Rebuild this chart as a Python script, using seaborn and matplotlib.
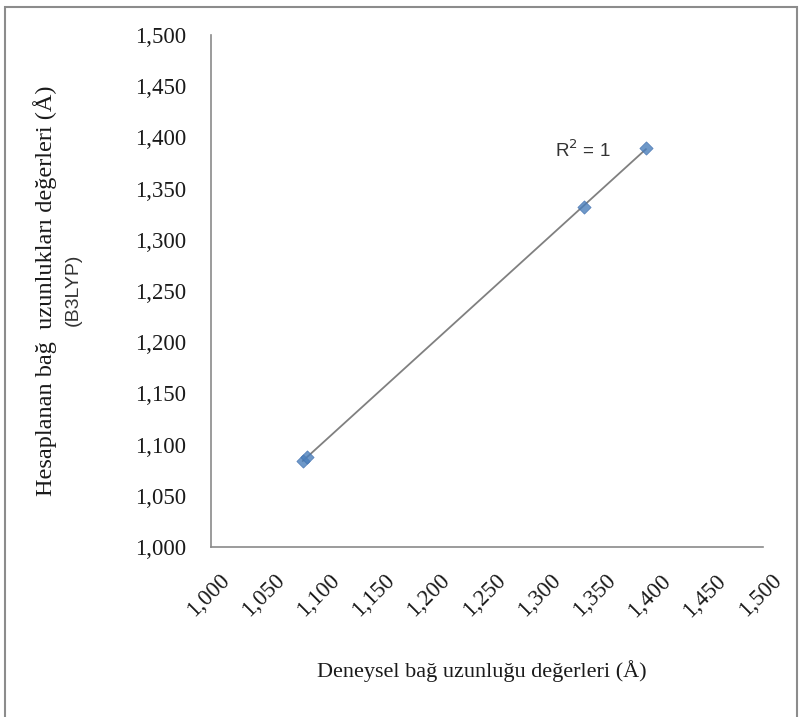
import numpy as np
import pandas as pd
import matplotlib
matplotlib.use("Agg")
import matplotlib.pyplot as plt
import matplotlib.transforms as mtransforms
import seaborn as sns
from matplotlib.patches import Rectangle

# ---- data ----
deneysel = [1.083, 1.087, 1.338, 1.394]      # experimental bond lengths (Å)
hesaplanan = [1.084, 1.088, 1.332, 1.390]    # B3LYP calculated bond lengths (Å)
tick_values = [1.000, 1.050, 1.100, 1.150, 1.200, 1.250, 1.300, 1.350, 1.400, 1.450, 1.500]
tick_labels = ["1,000", "1,050", "1,100", "1,150", "1,200", "1,250",
               "1,300", "1,350", "1,400", "1,450", "1,500"]
r2_text = "R$^2$ = 1"
xlabel = "Deneysel bağ uzunluğu değerleri (Å)"
ylabel1 = "Hesaplanan bağ  uzunlukları değerleri (Å)"
ylabel2 = "(B3LYP)"

df = pd.DataFrame({"x": deneysel, "y": hesaplanan})

sns.set_theme(style="white")
plt.rcParams["font.family"] = ["Liberation Serif", "DejaVu Serif"]

W, H = 800, 717
fig = plt.figure(figsize=(W / 100, H / 100), dpi=100)
ax = fig.add_axes([211 / W, 1 - 547 / H, (763 - 211) / W, (547 - 35) / H])

sns.regplot(data=df, x="x", y="y", ax=ax, ci=None,
            marker="D",
            scatter_kws={"s": 46, "color": "#4a7ebb", "edgecolor": "#3f6fae",
                         "linewidths": 0.5, "zorder": 3},
            line_kws={"color": "#808080", "lw": 1.3, "zorder": 2})

ax.set_xlim(1.0, 1.5)
ax.set_ylim(1.0, 1.5)
ax.set_xticks(tick_values)
ax.set_yticks(tick_values)
ax.set_xticklabels(tick_labels, rotation=45, ha="right", va="center",
                   rotation_mode="anchor", fontsize=16.5, color="#1a1a1a")
ax.set_yticklabels(tick_labels, fontsize=16.5, color="#1a1a1a")
ax.set_xlabel("")
ax.set_ylabel("")

for s in ["top", "right"]:
    ax.spines[s].set_visible(False)
for s in ["left", "bottom"]:
    ax.spines[s].set_color("#8a8a8a")
    ax.spines[s].set_linewidth(1.2)
ax.tick_params(axis="both", which="major", direction="out", length=6,
               width=1.0, color="#8a8a8a")
ax.tick_params(axis="y", pad=12)
ax.tick_params(axis="x", pad=16)

offset = mtransforms.ScaledTranslation(15 / 100, 0, fig.dpi_scale_trans)
for lab in ax.get_xticklabels():
    lab.set_transform(lab.get_transform() + offset)

ax.set_facecolor("white")

ax.text(1.3115, 1.387, r2_text, fontsize=13.5, family=["Liberation Sans", "DejaVu Sans"],
        color="#333333", ha="left", va="center")

fig.text(482 / W, 1 - 671 / H, xlabel, fontsize=16, ha="center", va="center",
         color="#1a1a1a")
fig.text(45 / W, 1 - 291 / H, ylabel1, fontsize=17.5, rotation=90,
         ha="center", va="center", color="#1a1a1a")
fig.text(73 / W, 1 - 290 / H, ylabel2, fontsize=14, rotation=90,
         ha="center", va="center", color="#333333",
         family=["Liberation Sans", "DejaVu Sans"])

# outer chart-area border
fig.patches.append(Rectangle((5 / W, -0.05), (797 - 5) / W, 1.05 - 7 / H,
                             transform=fig.transFigure, fill=False,
                             edgecolor="#8c8c8c", linewidth=1.5))

fig.savefig("out.png", dpi=100, facecolor="white")
